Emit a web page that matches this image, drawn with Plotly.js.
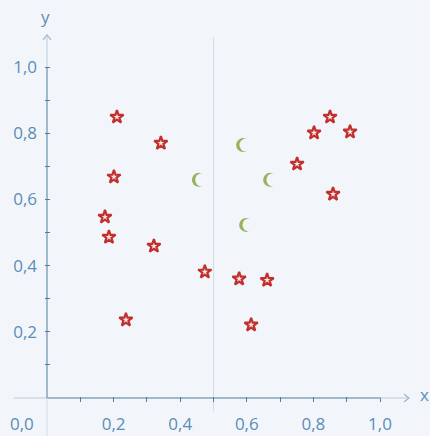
<!DOCTYPE html>
<html>
<head>
<meta charset="utf-8">
<script src="https://cdn.plot.ly/plotly-3.0.1.min.js"></script>
<style>html,body{margin:0;padding:0;background:#f2f6fb;}#chart{width:430px;height:436px;}</style>
</head>
<body>
<div id="chart"></div>
<script>
// Data
const starX = [0.21, 0.342, 0.201, 0.174, 0.186, 0.321, 0.474, 0.577, 0.661, 0.237, 0.613, 0.850, 0.802, 0.910, 0.751, 0.859];
const starY = [0.849, 0.770, 0.668, 0.547, 0.486, 0.459, 0.381, 0.360, 0.356, 0.236, 0.221, 0.849, 0.801, 0.804, 0.707, 0.616];
const moonX = [0.456, 0.589, 0.670, 0.598];
const moonY = [0.659, 0.764, 0.659, 0.523];
const tickVals = [0.1, 0.2, 0.3, 0.4, 0.5, 0.6, 0.7, 0.8, 0.9, 1.0];
const tickText = ['', '0,2', '', '0,4', '', '0,6', '', '0,8', '', '1,0'];

const W = 430, H = 436;
const X0 = 47, PX = 333, Y0 = 398, PY = 331;
const xr = [-X0 / PX, (W - X0) / PX];
const yr = [(Y0 - H) / PY, Y0 / PY];
const bg = '#f2f6fb';
const moonShiftPx = 2.8;

const labelColor = '#5b8db5';
const axisColor = '#4f7f9e';
const faint = '#b9cbd9';
const font = 'Open Sans, DejaVu Sans, sans-serif';
const fs = 17;

const traces = [
  // crescent moons: green disc with a background disc offset to the right (via shifted overlay axis)
  {
    x: moonX, y: moonY, mode: 'markers', type: 'scatter', xaxis: 'x', yaxis: 'y',
    marker: {symbol: 'circle', size: 14, color: '#95b45a', line: {width: 0}},
    hoverinfo: 'skip', showlegend: false
  },
  {
    x: moonX, y: moonY, mode: 'markers', type: 'scatter', xaxis: 'x2', yaxis: 'y',
    marker: {symbol: 'circle', size: 13, color: bg, line: {width: 0}},
    hoverinfo: 'skip', showlegend: false
  },
  {
    x: starX, y: starY, mode: 'markers', type: 'scatter',
    marker: {symbol: 'star', size: 10, color: '#fbe9e9', line: {color: '#c2302e', width: 2.2}},
    showlegend: false
  }
];

const layout = {
  width: W, height: H,
  margin: {l: 0, r: 0, t: 0, b: 0},
  paper_bgcolor: bg, plot_bgcolor: bg,
  font: {family: font, color: labelColor, size: fs},
  showlegend: false,
  xaxis: {
    range: xr, domain: [0, 1], anchor: 'free', position: (H - (Y0 - 2.5)) / H,
    showgrid: false, zeroline: false, showline: false,
    tickmode: 'array', tickvals: tickVals, ticktext: tickText,
    ticks: 'outside', ticklen: 5, tickwidth: 1, tickcolor: axisColor,
    ticklabelstandoff: 8,
    tickfont: {family: font, size: fs, color: labelColor}
  },
  xaxis2: {
    range: [xr[0] - moonShiftPx / PX, xr[1] - moonShiftPx / PX],
    overlaying: 'x', anchor: 'y', visible: false
  },
  yaxis: {
    range: yr, domain: [0, 1], anchor: 'free', position: (X0 + 2.5) / W,
    showgrid: false, zeroline: false, showline: false,
    tickmode: 'array', tickvals: tickVals, ticktext: tickText,
    ticks: 'outside', ticklen: 5, tickwidth: 1, tickcolor: axisColor,
    ticklabelstandoff: 4,
    tickfont: {family: font, size: fs, color: labelColor}
  },
  shapes: [
    {type: 'line', xref: 'x', yref: 'y', x0: 0.5, x1: 0.5, y0: -0.04, y1: 1.09, line: {color: '#d3dbe4', width: 1}, layer: 'below'},
    {type: 'line', xref: 'x', yref: 'y', x0: -0.1, x1: 0, y0: 0, y1: 0, line: {color: faint, width: 1}},
    {type: 'line', xref: 'x', yref: 'y', x0: 0, x1: 1.0, y0: 0, y1: 0, line: {color: axisColor, width: 1}},
    {type: 'line', xref: 'x', yref: 'y', x0: 1.0, x1: 1.085, y0: 0, y1: 0, line: {color: faint, width: 1}},
    {type: 'line', xref: 'x', yref: 'y', x0: 0, x1: 0, y0: yr[0], y1: 0, line: {color: '#d3dbe4', width: 1}},
    {type: 'line', xref: 'x', yref: 'y', x0: 0, x1: 0, y0: 0, y1: 1.0, line: {color: axisColor, width: 1}},
    {type: 'line', xref: 'x', yref: 'y', x0: 0, x1: 0, y0: 1.0, y1: 1.095, line: {color: faint, width: 1}},
    {type: 'path', xref: 'x', yref: 'y', path: 'M -0.012,1.0816 L 0,1.0967 L 0.012,1.0816', line: {color: '#9fb6c8', width: 1.2}},
    {type: 'path', xref: 'x', yref: 'y', path: 'M 1.072,0.0121 L 1.087,0 L 1.072,-0.0121', line: {color: '#9fb6c8', width: 1.2}}
  ],
  annotations: [
    {text: 'x', xref: 'x', yref: 'y', x: (424 - X0) / PX, y: (Y0 - 394) / PY, showarrow: false, font: {family: font, size: fs, color: labelColor}},
    {text: 'y', xref: 'x', yref: 'y', x: (45 - X0) / PX, y: (Y0 - 16) / PY, showarrow: false, font: {family: font, size: fs, color: labelColor}},
    {text: '0,0', xref: 'x', yref: 'y', x: (22 - X0) / PX, y: (Y0 - 423) / PY, showarrow: false, font: {family: font, size: fs, color: labelColor}}
  ]
};

Plotly.newPlot('chart', traces, layout, {displayModeBar: false, staticPlot: true});
</script>
</body>
</html>
